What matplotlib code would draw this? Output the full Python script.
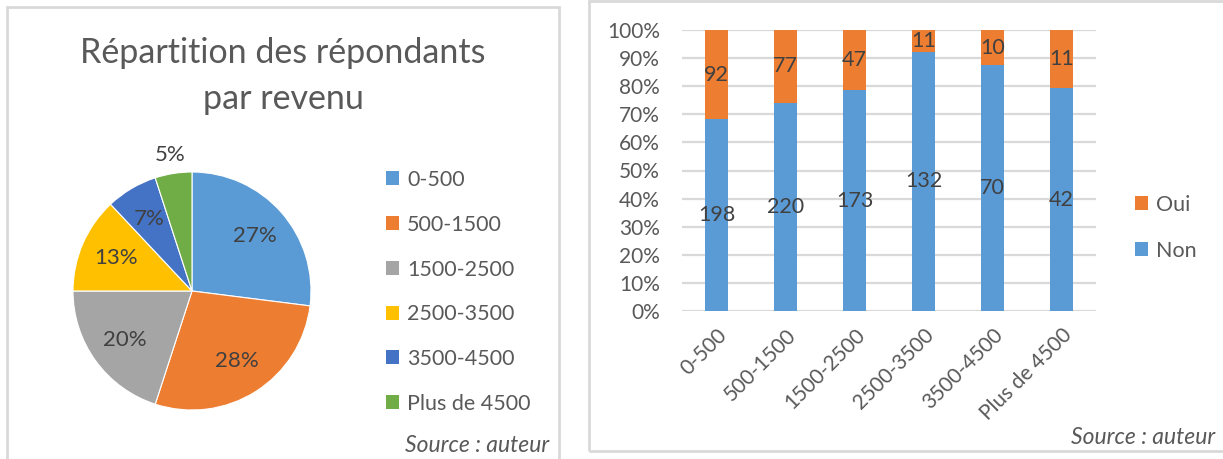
import matplotlib
matplotlib.use("Agg")
import matplotlib.pyplot as plt
from matplotlib.patches import Rectangle, Patch
from matplotlib.transforms import ScaledTranslation
import numpy as np

plt.rcParams['font.family'] = ['Lato', 'DejaVu Sans']

# ---------------- data ----------------
categories = ["0-500", "500-1500", "1500-2500", "2500-3500", "3500-4500", "Plus de 4500"]
pie_shares = [27, 28, 20, 13, 7, 5]
non_values = [198, 220, 173, 132, 70, 42]
oui_values = [92, 77, 47, 11, 10, 11]
y_ticks = [0, 10, 20, 30, 40, 50, 60, 70, 80, 90, 100]
y_tick_labels = [f"{v}%" for v in y_ticks]

pie_colors = ["#5B9BD5", "#ED7D31", "#A5A5A5", "#FFC000", "#4472C4", "#70AD47"]
c_non = "#5B9BD5"
c_oui = "#ED7D31"
txt = "#595959"
lbl = "#404040"
grid_c = "#D9D9D9"

W, H = 1223, 459
fig = plt.figure(figsize=(W / 100, H / 100), dpi=100)


def box(x0, y0, x1, y1):
    """pixel box (top-left origin) -> figure fraction [l, b, w, h]"""
    return [x0 / W, 1 - y1 / H, (x1 - x0) / W, (y1 - y0) / H]


def fx(x):
    return x / W


def fy(y):
    return 1 - y / H


# panel borders
for (x0, y0, x1, y1) in [(7, 7, 559, 470), (589, 1, 1240, 451)]:
    fig.add_artist(Rectangle((fx(x0), fy(y1)), (x1 - x0) / W, (y1 - y0) / H,
                             transform=fig.transFigure, fill=False,
                             edgecolor=grid_c, linewidth=2, clip_on=False))

# ---------------- pie ----------------
fig.text(fx(283), fy(53), "Répartition des répondants", ha="center", va="center",
         fontsize=24.5, color=txt)
fig.text(fx(283), fy(99), "par revenu", ha="center", va="center",
         fontsize=24.5, color=txt)

cx, cy, r = 192, 291, 119
axp = fig.add_axes(box(cx - r, cy - r, cx + r, cy + r))
wedges, texts, autotexts = axp.pie(
    pie_shares, colors=pie_colors, startangle=90, counterclock=False,
    autopct=lambda p: f"{p:.0f}%", pctdistance=0.70,
    wedgeprops=dict(edgecolor="white", linewidth=0.8),
    textprops=dict(fontsize=16, color=lbl))
# last (small) slice label placed outside
w = wedges[-1]
ang = np.deg2rad((w.theta1 + w.theta2) / 2)
autotexts[-1].set_position((1.16 * np.cos(ang), 1.16 * np.sin(ang)))
axp.set_xlim(-1, 1)
axp.set_ylim(-1, 1)
axp.set_aspect("equal")
axp.axis("off")

handles = [Patch(facecolor=c, edgecolor="none") for c in pie_colors]
fig.legend(handles, categories, loc="upper left",
           bbox_to_anchor=(fx(386), fy(170)), frameon=False,
           fontsize=15.5, labelcolor=txt, handlelength=0.62, handleheight=0.62,
           handletextpad=0.35, labelspacing=1.15, borderaxespad=0, borderpad=0)

fig.text(fx(549), fy(446), "Source : auteur", ha="right", va="center",
         fontsize=16.5, style="italic", color=txt)

# ---------------- stacked 100% bars ----------------
axb = fig.add_axes(box(682, 30, 1096, 311))
non = np.array(non_values, dtype=float)
oui = np.array(oui_values, dtype=float)
tot = non + oui
non_pct = non / tot * 100
oui_pct = oui / tot * 100
x = np.arange(len(categories))
bw = 0.32
b1 = axb.bar(x, non_pct, width=bw, color=c_non, zorder=3, label="Non")
b2 = axb.bar(x, oui_pct, width=bw, bottom=non_pct, color=c_oui, zorder=3, label="Oui")
axb.bar_label(b1, labels=[str(v) for v in non_values], label_type="center",
              fontsize=15.5, color=lbl, zorder=4)
axb.bar_label(b2, labels=[str(v) for v in oui_values], label_type="center",
              fontsize=15.5, color=lbl, zorder=4)

axb.set_xlim(-0.5, len(categories) - 0.5)
axb.set_ylim(0, 100)
axb.set_yticks(y_ticks)
axb.set_yticklabels(y_tick_labels, fontsize=15, color=txt)
axb.set_xticks(x)
axb.set_xticklabels(categories, fontsize=15, color=txt, rotation=45,
                    ha="right", rotation_mode="anchor")
off = ScaledTranslation(14 / 100, 0, fig.dpi_scale_trans)
for t in axb.get_xticklabels():
    t.set_transform(t.get_transform() + off)
axb.tick_params(axis="both", length=0)
axb.tick_params(axis="y", pad=16)
axb.tick_params(axis="x", pad=10)
axb.grid(axis="y", color=grid_c, linewidth=1.6, zorder=0)
for s in axb.spines.values():
    s.set_visible(False)

fig.legend([Patch(facecolor=c_oui), Patch(facecolor=c_non)], ["Oui", "Non"],
           loc="upper left", bbox_to_anchor=(fx(1135), fy(195)), frameon=False,
           fontsize=15.5, labelcolor=txt, handlelength=0.62, handleheight=0.62,
           handletextpad=0.35, labelspacing=1.2, borderaxespad=0, borderpad=0)

fig.text(fx(1215), fy(437), "Source : auteur", ha="right", va="center",
         fontsize=16.5, style="italic", color=txt)

fig.savefig("out.png", dpi=100)
